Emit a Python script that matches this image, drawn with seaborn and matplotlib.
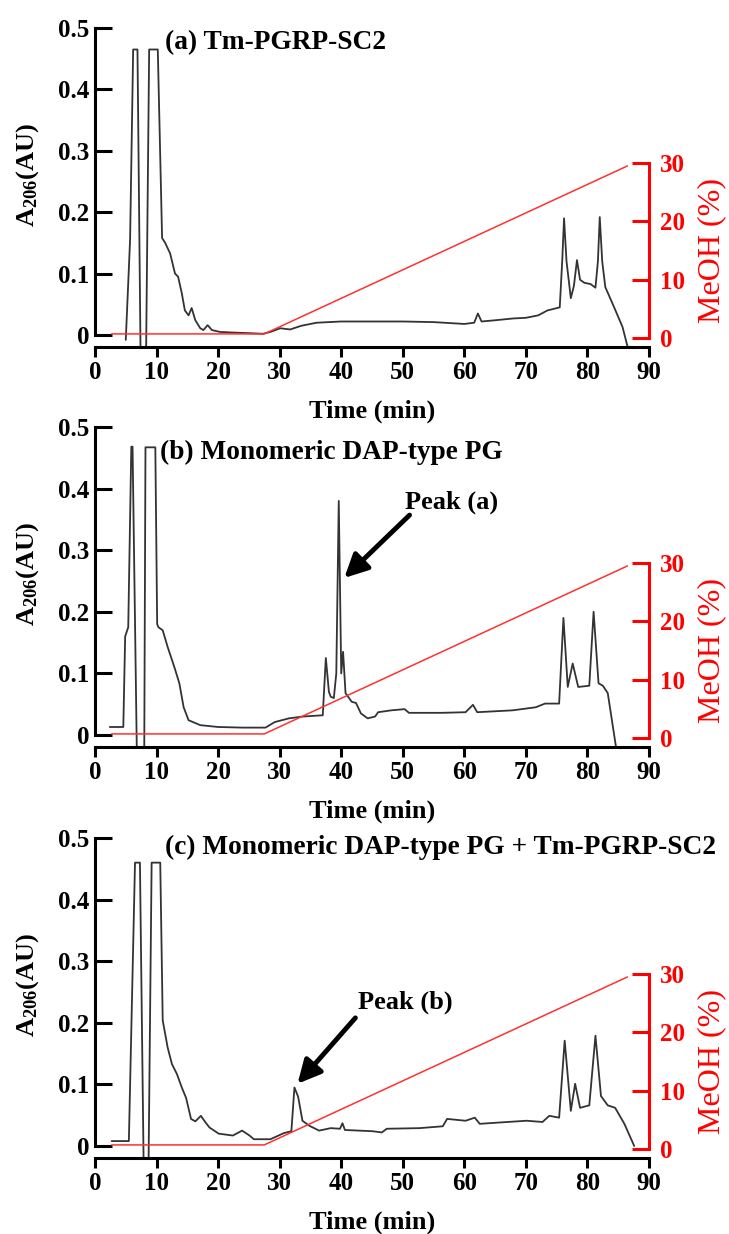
import matplotlib
matplotlib.use("Agg")
import matplotlib.pyplot as plt
import seaborn as sns

# ---------------- data ----------------
time_a = [5.0, 5.7, 6.2, 6.9, 7.4, 8.3, 8.8, 10.2, 10.9, 11.4, 12.2, 13.0, 13.5, 14.1, 14.6,
          15.2, 15.7, 16.3, 17.1, 17.6, 18.3, 19.0, 20.3, 22.4, 25.0, 27.3, 28.5, 30.1, 31.7,
          33.5, 36.0, 40.0, 45.0, 50.0, 55.0, 60.0, 61.6, 62.2, 62.8, 65.0, 68.0, 70.0, 72.0,
          73.5, 75.5, 75.9, 76.2, 76.6, 77.3, 77.8, 78.3, 78.8, 79.5, 80.5, 81.3, 81.7, 82.0,
          82.4, 82.9, 84.3, 85.7, 86.8]
abs_a = [-0.008, 0.155, 0.465, 0.465, -0.03, -0.03, 0.465, 0.465, 0.158, 0.15, 0.133, 0.10,
         0.095, 0.068, 0.04, 0.032, 0.044, 0.024, 0.011, 0.008, 0.016, 0.008, 0.005, 0.004,
         0.003, 0.002, 0.005, 0.011, 0.009, 0.015, 0.02, 0.022, 0.022, 0.022, 0.021, 0.018,
         0.02, 0.035, 0.022, 0.024, 0.027, 0.028, 0.032, 0.04, 0.045, 0.12, 0.19, 0.12, 0.06,
         0.08, 0.122, 0.09, 0.085, 0.083, 0.077, 0.12, 0.192, 0.12, 0.078, 0.046, 0.013, -0.03]

time_b = [2.4, 4.6, 4.9, 5.4, 5.9, 6.1, 6.8, 8.0, 8.2, 9.8, 10.1, 10.3, 11.0, 11.8, 12.9,
          13.7, 14.4, 15.2, 17.1, 20.0, 24.0, 27.7, 29.2, 31.5, 33.8, 37.0, 37.5, 38.0, 38.3,
          38.8, 39.2, 39.6, 40.0, 40.3, 40.7, 41.7, 42.4, 43.2, 44.3, 45.5, 46.0, 48.1, 50.3,
          51.0, 56.4, 60.2, 61.4, 62.1, 67.8, 71.6, 73.1, 75.4, 76.1, 76.8, 77.6, 78.5, 80.3,
          81.0, 81.8, 82.5, 83.3, 84.8]
abs_b = [0.013, 0.013, 0.16, 0.175, 0.468, 0.468, -0.03, -0.03, 0.467, 0.467, 0.18, 0.175,
         0.17, 0.143, 0.11, 0.084, 0.045, 0.024, 0.016, 0.013, 0.012, 0.012, 0.021, 0.027,
         0.03, 0.032, 0.125, 0.07, 0.062, 0.06, 0.1, 0.38, 0.1, 0.135, 0.068, 0.054, 0.052,
         0.035, 0.027, 0.03, 0.037, 0.04, 0.042, 0.036, 0.036, 0.037, 0.049, 0.037, 0.04,
         0.045, 0.051, 0.051, 0.19, 0.078, 0.116, 0.078, 0.08, 0.2, 0.084, 0.08, 0.068, -0.03]

time_c = [2.7, 5.5, 6.5, 7.3, 7.9, 8.7, 9.2, 10.6, 11.0, 11.8, 12.5, 13.3, 14.1, 14.8, 15.6,
          16.3, 17.2, 17.9, 18.6, 20.1, 22.4, 23.9, 25.1, 25.8, 28.5, 30.7, 31.9, 32.4, 33.0,
          33.7, 34.8, 36.4, 38.3, 39.8, 40.2, 40.6, 45.1, 46.6, 47.4, 52.7, 56.5, 57.2, 60.2,
          61.7, 62.5, 65.5, 70.1, 72.7, 73.8, 75.4, 76.3, 77.3, 78.0, 78.8, 80.3, 81.3, 82.2,
          83.3, 84.5, 86.0, 87.6]
abs_c = [0.008, 0.008, 0.46, 0.46, -0.03, -0.03, 0.46, 0.46, 0.204, 0.16, 0.133, 0.117,
         0.095, 0.078, 0.044, 0.04, 0.049, 0.039, 0.03, 0.02, 0.017, 0.025, 0.017, 0.011,
         0.011, 0.021, 0.024, 0.095, 0.08, 0.041, 0.033, 0.025, 0.029, 0.028, 0.037, 0.026,
         0.024, 0.022, 0.028, 0.029, 0.032, 0.044, 0.041, 0.046, 0.036, 0.038, 0.041, 0.039,
         0.049, 0.046, 0.171, 0.057, 0.101, 0.062, 0.066, 0.179, 0.081, 0.066, 0.062, 0.036,
         0.0]

gradient_time = [2.7, 27.5, 86.5]
gradient_meoh = [0.7, 0.7, 29.5]

titles = ["(a) Tm-PGRP-SC2",
          "(b) Monomeric DAP-type PG",
          "(c) Monomeric DAP-type PG + Tm-PGRP-SC2"]
title_pos = [(11.4, 0.476), (10.6, 0.458), (11.4, 0.484)]

peak_labels = [None, "Peak (a)", "Peak (b)"]
peak_text_pos = [None, (50.4, 0.377), (42.8, 0.233)]
peak_arrow_tail = [None, (51.1, 0.357), (42.3, 0.208)]
peak_arrow_tip = [None, (40.5, 0.255), (32.9, 0.101)]

x_ticks = [0, 10, 20, 30, 40, 50, 60, 70, 80, 90]
y_ticks = [0, 0.1, 0.2, 0.3, 0.4, 0.5]
y_ticklabels = ["0", "0.1", "0.2", "0.3", "0.4", "0.5"]
r_ticks = [0, 10, 20, 30]
r_ticklabels = ["0", "10", "20", "30"]

traces = [(time_a, abs_a), (time_b, abs_b), (time_c, abs_c)]

# ---------------- style ----------------
sns.set_theme(style="ticks")
plt.rcParams["font.family"] = ["Liberation Serif", "DejaVu Serif"]
plt.rcParams["mathtext.fontset"] = "custom"
plt.rcParams["mathtext.rm"] = "Liberation Serif"
plt.rcParams["mathtext.bf"] = "Liberation Serif:bold"
plt.rcParams["mathtext.it"] = "Liberation Serif:italic"

W, H = 729, 1234
fig = plt.figure(figsize=(W / 100, H / 100), dpi=100)

# axes boxes in pixels: (top, bottom)
boxes = [(28, 347), (427, 747), (838, 1158)]
LEFT, RIGHT = 95, 649
TICK_FS = 18
TITLE_FS = 19.7
SP_LW = 2.2

for i, ((top, bot), (tt, aa)) in enumerate(zip(boxes, traces)):
    hpx = bot - top
    ax = fig.add_axes([LEFT / W, 1 - bot / H, (RIGHT - LEFT) / W, hpx / H])
    zero_off = 12  # px from axes bottom to A=0
    ppu = (hpx - zero_off) / 0.5
    ax.set_xlim(0, 90)
    ax.set_ylim(-zero_off / ppu, 0.5)

    sns.lineplot(x=tt, y=aa, sort=False, estimator=None, ax=ax,
                 color="#333333", linewidth=1.3)

    for s in ["top", "right"]:
        ax.spines[s].set_visible(False)
    ax.spines["left"].set_bounds(0, 0.5)
    ax.spines["left"].set_linewidth(SP_LW)
    ax.spines["bottom"].set_linewidth(SP_LW)
    ax.spines["left"].set_color("black")
    ax.spines["bottom"].set_color("black")

    ax.set_xticks(x_ticks)
    ax.set_xticklabels([str(v) for v in x_ticks], fontsize=TICK_FS, fontweight="bold")
    ax.set_yticks(y_ticks)
    ax.set_yticklabels(y_ticklabels, fontsize=TICK_FS, fontweight="bold")
    ax.tick_params(axis="y", direction="in", length=12, width=SP_LW, pad=4, colors="black")
    ax.tick_params(axis="x", direction="out", length=7, width=SP_LW, pad=3, colors="black")

    ax.set_xlabel("Time (min)", fontsize=19, fontweight="bold", color="black")
    ax.xaxis.set_label_coords(0.5, -64 / hpx)
    ax.xaxis.label.set_verticalalignment("center")
    ax.set_ylabel(r"A$_{\mathbf{206}}$(AU)", fontsize=19, fontweight="bold", color="black")
    ax.yaxis.set_label_coords((28 - LEFT) / (RIGHT - LEFT), 0.54)
    ax.yaxis.label.set_verticalalignment("center")

    tx, ty = title_pos[i]
    ax.text(tx, ty, titles[i], fontsize=TITLE_FS, fontweight="bold", va="center", ha="left",
            color="black")

    if peak_labels[i] is not None:
        px_, py_ = peak_text_pos[i]
        ax.text(px_, py_, peak_labels[i], fontsize=19, fontweight="bold", va="center",
                ha="left", color="black")
        ax.annotate("", xy=peak_arrow_tip[i], xytext=peak_arrow_tail[i],
                    arrowprops=dict(arrowstyle="-|>,head_length=0.7,head_width=0.35",
                                    lw=3.5, color="black", shrinkA=0, shrinkB=0,
                                    mutation_scale=20))

    # MeOH gradient axis
    ax2 = ax.twinx()
    r_zero = 9      # px from axes bottom to 0 %
    r_ppu = 175 / 30
    ax2.set_ylim(-r_zero / r_ppu, (hpx - r_zero) / r_ppu)
    sns.lineplot(x=gradient_time, y=gradient_meoh, sort=False, estimator=None, ax=ax2,
                 color="#ff3030", linewidth=1.1)
    for s in ["top", "left", "bottom"]:
        ax2.spines[s].set_visible(False)
    ax2.spines["right"].set_bounds(0, 30)
    ax2.spines["right"].set_linewidth(SP_LW)
    ax2.spines["right"].set_color("#ff0000")
    ax2.set_yticks(r_ticks)
    ax2.set_yticklabels(r_ticklabels, fontsize=TICK_FS, fontweight="bold", color="#ff0000")
    ax2.tick_params(axis="y", direction="in", length=12, width=SP_LW, pad=8,
                    colors="#ff0000")
    ax2.set_ylabel("MeOH (%)", fontsize=23, color="#ff0000", fontweight="normal")
    ax2.yaxis.set_label_coords((712 - LEFT) / (RIGHT - LEFT), (r_zero + 87.5) / hpx)
    ax2.yaxis.label.set_verticalalignment("center")
    ax2.set_xlim(0, 90)

fig.savefig("out.png", dpi=100, facecolor="white")
